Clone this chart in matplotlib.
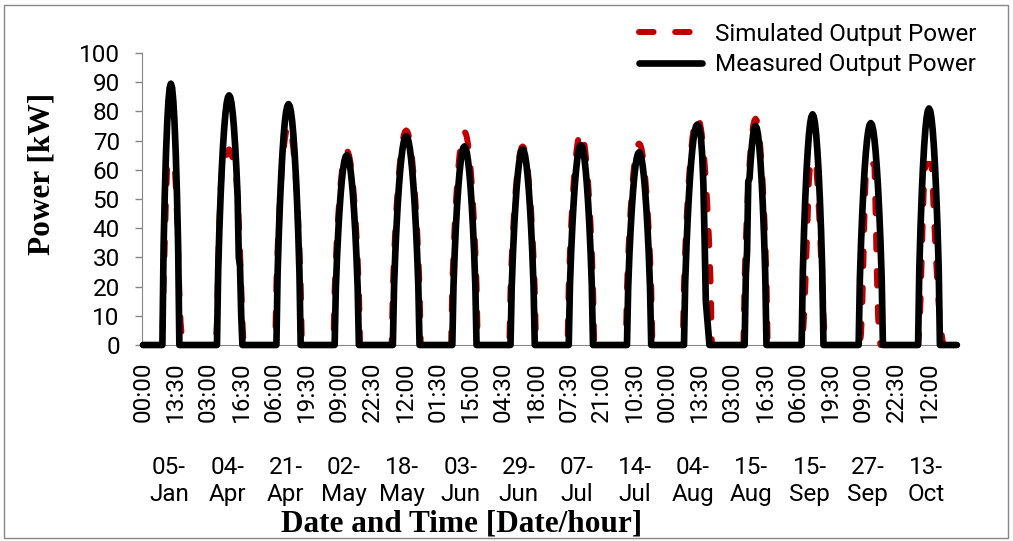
import numpy as np
import matplotlib
matplotlib.use("Agg")
import matplotlib.pyplot as plt
from matplotlib.patches import Rectangle
from matplotlib.transforms import blended_transform_factory

plt.rcParams["lines.scale_dashes"] = False

# one point every 30 min, 14 sample days
SLOTS_PER_DAY = 48
dates = ["05-\nJan", "04-\nApr", "21-\nApr", "02-\nMay", "18-\nMay", "03-\nJun", "29-\nJun",
         "07-\nJul", "14-\nJul", "04-\nAug", "15-\nAug", "15-\nSep", "27-\nSep", "13-\nOct"]
time_labels = ["00:00", "13:30", "03:00", "16:30", "06:00", "19:30", "09:00", "22:30", "12:00",
               "01:30", "15:00", "04:30", "18:00", "07:30", "21:00", "10:30", "00:00", "13:30",
               "03:00", "16:30", "06:00", "19:30", "09:00", "22:30", "12:00"]
TICK_STEP = 27

# measured output power [kW]: first non-zero half-hour slot of each day, then the day's values
measured_first = [17, 14, 15, 15, 15, 16, 16, 16, 16, 15, 17, 16, 15, 16]
measured_days = [
    [33.7, 52.0, 65.9, 76.3, 83.6, 88.1, 89.5, 88.1, 83.6, 76.3, 65.9, 52.0, 33.7],
    [25.6, 39.8, 51.1, 60.5, 68.2, 74.5, 79.3, 82.8, 84.8, 85.5, 84.8, 82.8, 79.3, 74.5, 68.2, 60.5, 51.1, 30.0, 27.0, 10.0],
    [24.7, 38.4, 49.3, 58.4, 65.8, 71.9, 76.6, 79.9, 81.8, 82.5, 81.8, 79.9, 76.6, 71.9, 65.8, 58.4, 49.3, 38.4, 24.7],
    [19.4, 30.3, 38.9, 46.0, 51.9, 56.6, 60.3, 62.9, 64.5, 65.0, 64.5, 62.9, 60.3, 56.6, 51.9, 46.0, 38.9, 30.3, 19.4],
    [20.1, 31.4, 40.4, 48.0, 54.3, 59.6, 63.9, 67.3, 69.6, 71.1, 71.5, 71.1, 69.6, 67.3, 63.9, 59.6, 54.3, 48.0, 40.4, 31.4, 20.1],
    [20.3, 31.7, 40.7, 48.1, 54.3, 59.2, 63.1, 65.8, 67.5, 68.0, 67.5, 65.8, 63.1, 59.2, 54.3, 48.1, 40.7, 31.7, 20.3],
    [20.0, 31.2, 40.1, 47.4, 53.5, 58.4, 62.2, 64.9, 66.5, 67.0, 66.5, 64.9, 62.2, 58.4, 53.5, 47.4, 40.1, 31.2, 20.0],
    [20.5, 31.9, 41.0, 48.5, 54.7, 59.7, 63.6, 66.3, 68.0, 68.5, 68.0, 66.3, 63.6, 59.7, 54.7, 48.5, 41.0, 31.9, 20.5],
    [19.7, 30.8, 39.5, 46.7, 52.7, 57.5, 61.2, 63.9, 65.5, 66.0, 65.5, 63.9, 61.2, 57.5, 52.7, 46.7, 39.5, 30.8, 19.7],
    [21.2, 33.1, 42.7, 50.7, 57.4, 63.0, 67.5, 71.0, 73.5, 75.0, 75.5, 75.0, 73.5, 71.0, 65.0, 55.0, 36.0, 15.0, 10.0, 5.0],
    [24.1, 32.0, 56.0, 57.0, 63.1, 68.3, 72.1, 74.3, 75.0, 74.3, 72.1, 68.3, 63.1, 56.3, 47.8, 37.4, 24.1],
    [25.4, 39.3, 50.3, 59.3, 66.4, 72.0, 75.9, 78.2, 79.0, 78.2, 75.9, 72.0, 66.4, 59.3, 50.3, 39.3, 25.4],
    [22.7, 35.4, 45.4, 53.8, 60.6, 66.2, 70.5, 73.6, 75.4, 76.0, 75.4, 73.6, 70.5, 66.2, 60.6, 53.8, 45.4, 35.4, 22.7],
    [26.0, 40.3, 51.6, 60.8, 68.1, 73.8, 77.8, 80.2, 81.0, 80.2, 77.8, 73.8, 68.1, 60.8, 51.6, 40.3, 26.0],
]

# simulated output power [kW], same layout
simulated_first = [17, 13, 14, 14, 14, 15, 15, 15, 15, 14, 16, 16, 16, 16]
simulated_days = [
    [20, 35, 50, 62, 62, 62, 62, 62, 62, 62, 55, 45, 32, 18, 8, 3],
    [8, 28, 42, 53, 60, 63, 64, 64, 65, 66, 67, 66, 65, 64, 63, 61, 57, 50, 42, 32, 20, 8],
    [21.1, 32.9, 42.4, 50.3, 57.0, 62.6, 67.1, 70.6, 73.1, 74.6, 75.0, 74.6, 73.1, 70.6, 67.1, 62.6, 57.0, 50.3, 42.4, 32.9, 21.1],
    [18.7, 29.2, 37.6, 44.6, 50.5, 55.5, 59.5, 62.6, 64.8, 66.1, 66.5, 66.1, 64.8, 62.6, 59.5, 55.5, 50.5, 44.6, 37.6, 29.2, 18.7],
    [19.6, 30.5, 39.4, 46.8, 53.2, 58.7, 63.2, 67.0, 69.8, 71.9, 73.1, 73.5, 73.1, 71.9, 69.8, 67.0, 63.2, 58.7, 53.2, 46.8, 39.4, 30.5, 19.6],
    [20.5, 32.0, 41.2, 49.0, 55.5, 60.9, 65.3, 68.7, 71.1, 72.6, 73.0, 72.6, 71.1, 68.7, 65.3, 60.9, 55.5, 49.0, 41.2, 32.0, 20.5],
    [19.1, 29.9, 38.4, 45.6, 51.7, 56.7, 60.8, 64.0, 66.2, 67.6, 68.0, 67.6, 66.2, 64.0, 60.8, 56.7, 51.7, 45.6, 38.4, 29.9, 19.1],
    [20.5, 32.0, 41.1, 48.8, 55.3, 60.7, 65.1, 68.5, 70.9, 72.4, 72.8, 72.4, 70.9, 68.5, 65.1, 60.7, 55.3, 48.8, 41.1, 32.0, 20.5],
    [19.4, 30.3, 39.0, 46.3, 52.4, 57.5, 61.7, 64.9, 67.2, 68.6, 69.0, 68.6, 67.2, 64.9, 61.7, 57.5, 52.4, 46.3, 39.0, 30.3, 19.4],
    [20.7, 32.4, 41.8, 49.7, 56.5, 62.2, 67.1, 71.1, 74.1, 76.3, 77.5, 78.0, 77.5, 76.3, 74.1, 71.1, 67.1, 62.2, 56.5, 49.7, 41.8, 32.4, 20.7],
    [23.2, 36.1, 46.3, 54.9, 61.8, 67.5, 71.9, 75.0, 76.9, 77.5, 76.9, 75.0, 71.9, 67.5, 61.8, 54.9, 46.3, 36.1, 23.2],
    [3, 10, 20, 32, 45, 56, 62, 63, 63, 63, 63, 62, 55, 48, 40, 30, 20, 10, 3],
    [4, 14, 30, 48, 60, 62, 62, 62, 62, 62, 62, 62, 45, 25, 10, 2],
    [5, 15, 30, 45, 57, 61, 62, 62, 62, 62, 62, 55, 45, 36, 28, 20, 14, 9, 5, 2],
]


def build_series(first_slots, days):
    out = np.zeros(SLOTS_PER_DAY * len(days))
    for d, (s, vals) in enumerate(zip(first_slots, days)):
        i0 = d * SLOTS_PER_DAY + s
        out[i0:i0 + len(vals)] = vals
    return out


measured = build_series(measured_first, measured_days)
simulated = build_series(simulated_first, simulated_days)
idx = np.arange(len(measured))

SANS = "Roboto"
SERIF = "Liberation Serif"
GREY = "#868686"
FS = 17.5

fig = plt.figure(figsize=(10.13, 5.41), dpi=100)
ax = fig.add_axes([142 / 1013, 196 / 541, 816 / 1013, 292 / 541])

ax.plot(idx, simulated, color="#C00000", lw=4.3, linestyle=(0, (10.5, 15.5)),
        dash_capstyle="round", dash_joinstyle="round", clip_on=False,
        label="Simulated Output Power", zorder=3)
ax.plot(idx, measured, color="black", lw=4.8, solid_capstyle="round",
        solid_joinstyle="round", clip_on=False,
        label="Measured Output Power", zorder=4)

ax.set_xlim(-0.8, 671.9)
ax.set_ylim(0, 100)
ax.set_yticks(np.arange(0, 101, 10))
ax.set_xticks(np.arange(len(time_labels)) * TICK_STEP)
ax.set_xticklabels(time_labels, rotation=90, fontfamily=SANS, fontsize=FS)
for lab in ax.get_yticklabels():
    lab.set_fontfamily(SANS)
    lab.set_fontsize(FS)
ax.tick_params(axis="x", length=0, pad=12)
ax.tick_params(axis="y", length=5, width=1, color=GREY, direction="out", pad=11)
for side in ("top", "right"):
    ax.spines[side].set_visible(False)
ax.spines["left"].set_color(GREY)
ax.spines["bottom"].set_color(GREY)

# day labels under each block of 48 half-hour slots
trans = blended_transform_factory(ax.transData, fig.transFigure)
for d, lab in enumerate(dates):
    ax.text(d * SLOTS_PER_DAY + 23.5 - 2, 0.111, lab, transform=trans, ha="center", va="center",
            multialignment="center", fontfamily=SANS, fontsize=FS, linespacing=1.27)

fig.text(461.5 / 1013, 9 / 541, "Date and Time [Date/hour]", ha="center", va="baseline",
         fontfamily=SERIF, fontweight="bold", fontsize=22.5)
fig.text(42 / 1013, 1 - 174 / 541, "Power [kW]", rotation=90, ha="center", va="center",
         fontfamily=SERIF, fontweight="bold", fontsize=22.5)

fig.legend(loc="upper right", bbox_to_anchor=(976 / 1013, 1 - 23 / 541), frameon=False,
           prop={"family": SANS, "size": FS}, handlelength=2.6, handletextpad=0.5,
           labelspacing=0.3, borderaxespad=0, borderpad=0)

# chart-area border
fig.patches.append(Rectangle((4 / 1013, 3 / 541), 1004 / 1013, 533 / 541,
                             transform=fig.transFigure, fill=False, edgecolor=GREY, lw=1))

fig.savefig("out.png", dpi=100)
